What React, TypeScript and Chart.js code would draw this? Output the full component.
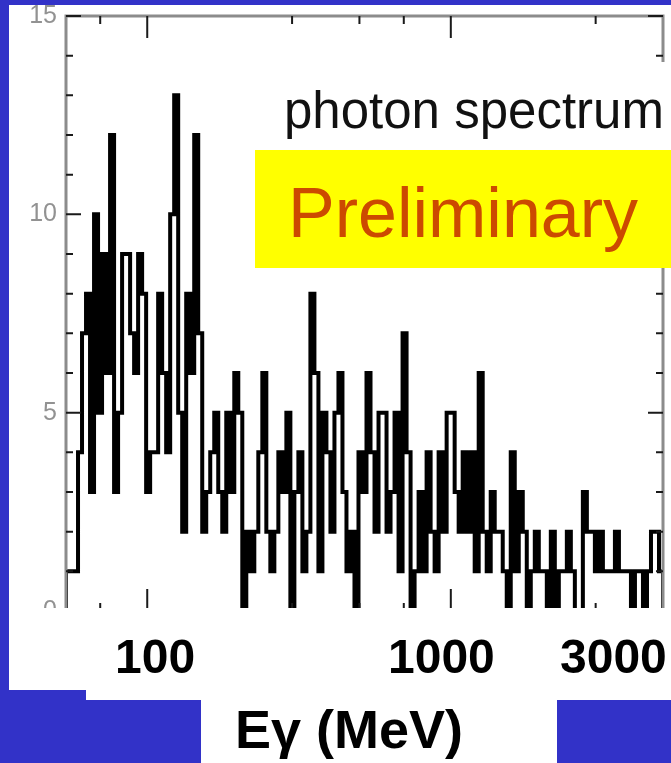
import { useEffect, useRef } from 'react';
import { Chart, registerables } from 'chart.js';

Chart.register(...registerables);

// Energy range of the histogram (MeV), log-uniform binning
const E_MIN = 54;
const E_MAX = 5000;

// Counts per bin, low energy to high energy
const COUNTS = [
  1, 1, 1, 4, 7, 8, 3, 10, 5, 9,
  6, 12, 3, 5, 9, 9, 7, 6, 9, 8,
  3, 4, 4, 8, 6, 4, 10, 13, 5, 2,
  8, 6, 12, 7, 2, 3, 4, 5, 3, 2,
  5, 3, 6, 5, 0, 2, 1, 2, 4, 6,
  2, 1, 2, 4, 3, 5, 0, 3, 4, 1,
  2, 8, 6, 1, 5, 4, 2, 5, 6, 3,
  1, 2, 0, 4, 3, 6, 4, 2, 5, 5,
  2, 3, 5, 1, 7, 4, 0, 1, 3, 1,
  4, 2, 1, 4, 2, 5, 5, 3, 2, 4,
  2, 4, 1, 6, 2, 1, 3, 2, 2, 1,
  0, 4, 1, 3, 2, 0, 1, 2, 1, 1,
  0, 2, 0, 1, 1, 2, 1, 0, 0, 3,
  2, 2, 1, 2, 1, 1, 1, 2, 1, 1,
  1, 0, 1, 1, 0, 1, 2, 2, 1,
];

const Y_MIN = 0;
const Y_MAX = 15;
const Y_LABEL_STEP = 5;

// Tick marks on the energy axis (MeV)
const X_TICKS_MAJOR = [100, 1000];
const X_TICKS_MINOR = [70, 300, 500, 700, 3000];

const AXIS_LABELS = ['100', '1000', '3000'];
const AXIS_TITLE = 'E\u03b3 (MeV)';
const LEGEND_TEXT = 'photon spectrum';
const STAMP_TEXT = 'Preliminary';

const BLUE = '#3232c8';

const framePlugin = {
  id: 'frame',
  afterDatasetsDraw(chart: any) {
    const { ctx, chartArea: a, scales } = chart;
    const x = scales.x;
    const y = scales.y;
    ctx.save();
    ctx.strokeStyle = '#8c8c8c';
    ctx.lineWidth = 3;
    ctx.beginPath();
    ctx.moveTo(a.left, a.bottom);
    ctx.lineTo(a.left, a.top);
    ctx.lineTo(a.right, a.top);
    ctx.lineTo(a.right, a.bottom);
    ctx.stroke();

    ctx.strokeStyle = '#1a1a1a';
    ctx.lineWidth = 2;
    ctx.beginPath();
    for (let v = Y_MIN; v <= Y_MAX; v++) {
      const py = y.getPixelForValue(v);
      const len = v % 5 === 0 ? 15 : 7;
      ctx.moveTo(a.left, py);
      ctx.lineTo(a.left + len, py);
      ctx.moveTo(a.right, py);
      ctx.lineTo(a.right - len, py);
    }
    const ticks = [
      ...X_TICKS_MAJOR.map((t) => [t, 22]),
      ...X_TICKS_MINOR.map((t) => [t, 8]),
    ];
    for (const [t, len] of ticks) {
      const px = x.getPixelForValue(t);
      ctx.moveTo(px, a.top);
      ctx.lineTo(px, a.top + len);
      ctx.moveTo(px, a.bottom);
      ctx.lineTo(px, a.bottom - len);
    }
    ctx.stroke();
    ctx.restore();
  },
};

function HistogramChart() {
  const ref = useRef<HTMLCanvasElement | null>(null);

  useEffect(() => {
    if (!ref.current) return;
    const n = COUNTS.length;
    const edge = (k: number) => E_MIN * Math.pow(E_MAX / E_MIN, k / n);
    const points: { x: number; y: number }[] = [{ x: edge(0), y: 0 }];
    COUNTS.forEach((c, k) => points.push({ x: edge(k), y: c }));
    points.push({ x: edge(n), y: 0 });

    const chart = new Chart(ref.current, {
      type: 'line',
      data: {
        datasets: [
          {
            data: points,
            stepped: true,
            borderColor: '#000',
            borderWidth: 4,
            pointRadius: 0,
            fill: false,
            tension: 0,
            borderJoinStyle: 'miter',
            borderCapStyle: 'butt',
          },
        ],
      },
      options: {
        animation: false,
        responsive: false,
        devicePixelRatio: 1,
        events: [],
        layout: { padding: { left: 0, top: 15, right: 8, bottom: 152 } },
        plugins: { legend: { display: false }, tooltip: { enabled: false } },
        scales: {
          x: { type: 'logarithmic', min: E_MIN, max: E_MAX, display: false },
          y: {
            type: 'linear',
            min: Y_MIN,
            max: Y_MAX,
            afterFit: (s: any) => {
              s.width = 66;
            },
            grid: { display: false },
            border: { display: false },
            ticks: {
              stepSize: Y_LABEL_STEP,
              color: '#929292',
              padding: 1,
              font: { family: 'Liberation Sans', size: 25 },
            },
          },
        },
      },
      plugins: [framePlugin],
    } as any);
    return () => chart.destroy();
  }, []);

  return (
    <canvas
      ref={ref}
      width={671}
      height={763}
      style={{ position: 'absolute', left: 0, top: 0 }}
    />
  );
}

const abs = (l: number, t: number, w: number, h: number, bg: string) => ({
  position: 'absolute' as const,
  left: l,
  top: t,
  width: w,
  height: h,
  background: bg,
});

const text = (l: number, baseline: number, size: number, weight: number, color: string) => ({
  position: 'absolute' as const,
  left: l,
  top: baseline - size * 0.8465,
  fontFamily: '"Liberation Sans", Arial, sans-serif',
  fontSize: size,
  lineHeight: `${size}px`,
  fontWeight: weight,
  color,
  whiteSpace: 'nowrap' as const,
});

export default function App() {
  return (
    <div
      style={{
        position: 'fixed',
        left: 0,
        top: 0,
        width: 671,
        height: 763,
        background: BLUE,
        overflow: 'hidden',
      }}
    >
      <div style={abs(9, 5, 662, 695, '#fff')} />
      <div style={abs(0, 690, 86, 10, BLUE)} />
      <div style={abs(201, 700, 356, 63, '#fff')} />
      <HistogramChart />
      <div style={abs(9, 608, 662, 30, '#fff')} />
      <div style={text(115, 674, 48, 700, '#000')}>{AXIS_LABELS[0]}</div>
      <div style={text(388, 674, 48, 700, '#000')}>{AXIS_LABELS[1]}</div>
      <div style={text(560, 674, 48, 700, '#000')}>{AXIS_LABELS[2]}</div>
      <div style={text(235, 748, 54, 700, '#000')}>{AXIS_TITLE}</div>
      <div style={abs(255, 62, 416, 88, '#fff')} />
      <div style={text(284, 128, 51, 400, '#111')}>{LEGEND_TEXT}</div>
      <div style={abs(255, 150, 416, 118, '#ffff00')} />
      <div style={text(288, 237, 70, 400, '#cc4a00')}>{STAMP_TEXT}</div>
    </div>
  );
}
